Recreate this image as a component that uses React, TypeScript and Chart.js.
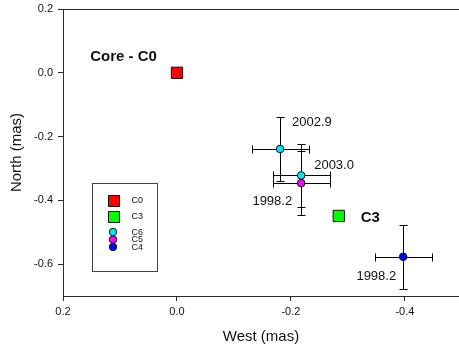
import React, { useEffect, useRef } from 'react';
import { Chart, registerables } from 'chart.js';

Chart.register(...registerables);

const FONT = "'Liberation Sans', Arial, Helvetica, sans-serif";

// Component positions relative to the core (mas). C6 was observed at two epochs.
const componentNames = ['C0', 'C3', 'C6', 'C5', 'C4'];

const westC0 = [0.0];
const northC0 = [0.0];

const westC3 = [-0.284];
const northC3 = [-0.449];

const westC6 = [-0.181, -0.218];
const northC6 = [-0.239, -0.322];
const westErrC6 = [0.05, 0.05];
const northErrC6 = [0.1, 0.1];
const epochsC6 = ['2002.9', '2003.0'];

const westC5 = [-0.218];
const northC5 = [-0.346];
const westErrC5 = [0.05];
const northErrC5 = [0.1];
const epochsC5 = ['1998.2'];

const westC4 = [-0.397];
const northC4 = [-0.577];
const westErrC4 = [0.05];
const northErrC4 = [0.1];
const epochsC4 = ['1998.2'];

// Names written next to the two square markers
const nameC0 = 'Core - C0';
const nameC3 = 'C3';

const xTicks = [0.2, 0.0, -0.2, -0.4];
const yTicks = [0.2, 0.0, -0.2, -0.4, -0.6];

const AXIS = '#2a2a2a';
const TEXT = '#111';

const toPoints = (xs: number[], ys: number[]) => xs.map((x, i) => ({ x, y: ys[i] }));

// Placement of the text attached to points (pixel offsets from the marker)
const epochOffsets: Record<string, { dx: number; dy: number; align: CanvasTextAlign }[]> = {
  C6: [
    { dx: 12, dy: -27, align: 'left' },
    { dx: 13, dy: -10, align: 'left' },
  ],
  C5: [{ dx: -9, dy: 18, align: 'right' }],
  C4: [{ dx: -7, dy: 20, align: 'right' }],
};
const nameOffsets: Record<string, { dx: number; dy: number; align: CanvasTextAlign }> = {
  C0: { dx: -20, dy: -16, align: 'right' },
  C3: { dx: 22, dy: 2, align: 'left' },
};

const errorBarPlugin = {
  id: 'errorBars',
  beforeDatasetsDraw(chart: any) {
    const { ctx } = chart;
    const xs = chart.scales.x;
    const ys = chart.scales.y;
    const cap = 4;
    ctx.save();
    ctx.strokeStyle = '#000';
    ctx.lineWidth = 1;
    chart.data.datasets.forEach((ds: any) => {
      if (!ds.errX) return;
      ds.data.forEach((p: any, i: number) => {
        const cx = Math.round(xs.getPixelForValue(p.x)) + 0.5;
        const cy = Math.round(ys.getPixelForValue(p.y)) + 0.5;
        const x1 = Math.round(xs.getPixelForValue(p.x + ds.errX[i])) + 0.5;
        const x2 = Math.round(xs.getPixelForValue(p.x - ds.errX[i])) + 0.5;
        const y1 = Math.round(ys.getPixelForValue(p.y + ds.errY[i])) + 0.5;
        const y2 = Math.round(ys.getPixelForValue(p.y - ds.errY[i])) + 0.5;
        ctx.beginPath();
        ctx.moveTo(x1, cy);
        ctx.lineTo(x2, cy);
        ctx.moveTo(x1, cy - cap);
        ctx.lineTo(x1, cy + cap);
        ctx.moveTo(x2, cy - cap);
        ctx.lineTo(x2, cy + cap);
        ctx.moveTo(cx, y1);
        ctx.lineTo(cx, y2);
        ctx.moveTo(cx - cap, y1);
        ctx.lineTo(cx + cap, y1);
        ctx.moveTo(cx - cap, y2);
        ctx.lineTo(cx + cap, y2);
        ctx.stroke();
      });
    });
    ctx.restore();
  },
};

const drawMarker = (ctx: CanvasRenderingContext2D, ds: any, x: number, y: number) => {
  ctx.fillStyle = ds.backgroundColor;
  ctx.strokeStyle = ds.borderColor;
  ctx.lineWidth = 1;
  ctx.beginPath();
  if (ds.pointStyle === 'rect') {
    const s = 11;
    ctx.rect(Math.round(x - s / 2) + 0.5, Math.round(y - s / 2) + 0.5, s, s);
  } else {
    ctx.arc(x, y, 3.7, 0, Math.PI * 2);
  }
  ctx.fill();
  ctx.stroke();
};

const annotationPlugin = {
  id: 'annotations',
  afterDatasetsDraw(chart: any) {
    const { ctx, chartArea } = chart;
    ctx.save();

    // frame line along the top of the plot
    ctx.strokeStyle = AXIS;
    ctx.lineWidth = 1;
    ctx.beginPath();
    ctx.moveTo(chartArea.left, Math.round(chartArea.top) + 0.5);
    ctx.lineTo(chartArea.right, Math.round(chartArea.top) + 0.5);
    ctx.stroke();

    ctx.textBaseline = 'middle';
    ctx.fillStyle = TEXT;

    chart.data.datasets.forEach((ds: any, di: number) => {
      const meta = chart.getDatasetMeta(di);
      if (ds.epochs) {
        ctx.font = `13px ${FONT}`;
        ds.epochs.forEach((t: string, i: number) => {
          const el = meta.data[i];
          const o = epochOffsets[ds.label][i];
          ctx.textAlign = o.align;
          ctx.fillText(t, el.x + o.dx, el.y + o.dy);
        });
      }
      if (ds.name) {
        ctx.font = `bold 15px ${FONT}`;
        const el = meta.data[0];
        const o = nameOffsets[ds.label];
        ctx.textAlign = o.align;
        ctx.fillText(ds.name, el.x + o.dx, el.y + o.dy);
      }
    });

    // legend box
    const box = { left: 92.5, top: 183.5, width: 65, height: 88 };
    ctx.strokeStyle = '#444';
    ctx.strokeRect(box.left, box.top, box.width, box.height);
    const rows = [200.5, 216, 232, 239.5, 247];
    ctx.font = `9px ${FONT}`;
    ctx.textAlign = 'left';
    chart.data.datasets.forEach((ds: any, di: number) => {
      drawMarker(ctx, ds, 113, rows[di]);
      ctx.fillStyle = TEXT;
      ctx.fillText(ds.label, 131.5, rows[di] + 0.5);
    });

    ctx.restore();
  },
};

const noEdgePadding = (scale: any) => {
  scale.paddingLeft = 0;
  scale.paddingRight = 0;
  scale.paddingTop = 0;
  scale.paddingBottom = 0;
};

export default function App() {
  const canvasRef = useRef<HTMLCanvasElement | null>(null);

  useEffect(() => {
    if (!canvasRef.current) return;
    const circle = { pointStyle: 'circle', pointRadius: 3.8, borderWidth: 1, borderColor: '#111' };
    const square = { pointStyle: 'rect', pointRadius: 8, borderWidth: 1, borderColor: '#111' };

    const chart = new Chart(canvasRef.current, {
      type: 'scatter',
      data: {
        datasets: [
          { label: componentNames[0], data: toPoints(westC0, northC0), backgroundColor: '#ff0000', name: nameC0, ...square },
          { label: componentNames[1], data: toPoints(westC3, northC3), backgroundColor: '#00ff00', name: nameC3, ...square },
          { label: componentNames[2], data: toPoints(westC6, northC6), backgroundColor: '#00e8ef', errX: westErrC6, errY: northErrC6, epochs: epochsC6, ...circle },
          { label: componentNames[3], data: toPoints(westC5, northC5), backgroundColor: '#ff00ff', errX: westErrC5, errY: northErrC5, epochs: epochsC5, ...circle },
          { label: componentNames[4], data: toPoints(westC4, northC4), backgroundColor: '#0000ff', errX: westErrC4, errY: northErrC4, epochs: epochsC4, ...circle },
        ] as any,
      },
      options: {
        animation: false,
        responsive: false,
        layout: { autoPadding: false, padding: { top: 9, right: 0, bottom: 0, left: 0 } },
        plugins: {
          legend: { display: false },
          tooltip: { enabled: false },
        },
        scales: {
          x: {
            type: 'linear',
            reverse: true,
            min: -0.495,
            max: 0.2,
            afterBuildTicks: (scale: any) => {
              scale.ticks = xTicks.map((v) => ({ value: v }));
            },
            afterFit: (scale: any) => {
              scale.height = 54;
              noEdgePadding(scale);
            },
            grid: { drawOnChartArea: false, drawTicks: true, tickLength: 5, color: AXIS },
            border: { display: true, color: AXIS },
            ticks: {
              padding: 4,
              color: TEXT,
              font: { family: FONT, size: 11 },
              callback: (v: any) => Number(v).toFixed(1),
            },
            title: {
              display: true,
              text: 'West (mas)',
              color: TEXT,
              font: { family: FONT, size: 15 },
              padding: { top: 4, bottom: 4 },
            },
          },
          y: {
            type: 'linear',
            min: -0.7,
            max: 0.2,
            afterBuildTicks: (scale: any) => {
              scale.ticks = yTicks.map((v) => ({ value: v }));
            },
            afterFit: (scale: any) => {
              scale.width = 63;
              noEdgePadding(scale);
            },
            grid: { drawOnChartArea: false, drawTicks: true, tickLength: 5, color: AXIS },
            border: { display: true, color: AXIS },
            ticks: {
              padding: 5,
              color: TEXT,
              font: { family: FONT, size: 11 },
              callback: (v: any) => Number(v).toFixed(1),
            },
            title: {
              display: true,
              text: 'North (mas)',
              color: TEXT,
              font: { family: FONT, size: 15 },
              padding: { top: 8, bottom: 4 },
            },
          },
        },
      } as any,
      plugins: [errorBarPlugin, annotationPlugin],
    });

    return () => chart.destroy();
  }, []);

  return (
    <div style={{ position: 'absolute', left: 0, top: 0, width: 459, height: 350, background: '#fff' }}>
      <canvas ref={canvasRef} width={459} height={350} />
    </div>
  );
}
